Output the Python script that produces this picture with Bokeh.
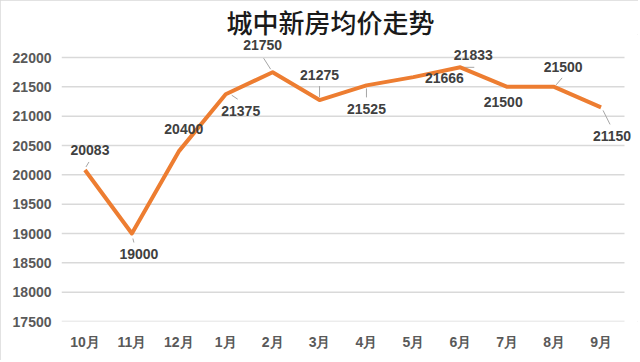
from bokeh.plotting import figure
from bokeh.models import ColumnDataSource, Range1d, FixedTicker, Title, LabelSet
from bokeh.core.properties import value
from bokeh.embed import file_html
from bokeh.resources import INLINE

months = ["10月", "11月", "12月", "1月", "2月", "3月", "4月", "5月", "6月", "7月", "8月", "9月"]
prices = [20083, 19000, 20400, 21375, 21750, 21275, 21525, 21666, 21833, 21500, 21500, 21150]
y_ticks = [17500, 18000, 18500, 19000, 19500, 20000, 20500, 21000, 21500, 22000]
title_text = "城中新房均价走势"

# label offsets in pixels (screen, y down)
lab_dx = [5, 7, 5, 15, -10, 0, 0, 31, 13, -4, 9, 11]
lab_dy = [-20, 20, -22, 17, -27, -25, 24, 1, -12, 15, -20, 29]
# leader lines: (dx0, dy0, dx1, dy1) in pixels from point, None = no line
leaders = [(1, -3, 4, -8), (1, 5, 2, 9), None, (6, 1, 12, 5), (-2, -3, -9, -14),
           (0, -3, 0, -14), (0, 3, 0, 12), None, (2, 0, 14, 0), None,
           (2, -2, 8, -9), (2, 3, 9, 17)]

W, H = 638, 360
ML, MR, MT, MB = 61, 0, 34, 39
GRID_R = 14         # pixels of frame to the right of the last category band
n = len(months)
band_px = (W - ML - MR - GRID_R) / n
x0, x1 = 0, n + GRID_R / band_px
px_y = 500 / 29.33
y0 = 17500
y1 = y0 + (H - MT - MB) * px_y
px_x = 1 / band_px

xs = [i + 0.5 for i in range(n)]
src = ColumnDataSource(dict(x=xs, y=prices, t=[str(v) for v in prices],
                            dx=lab_dx, dy=[-d for d in lab_dy]))

p = figure(width=W, height=H, output_backend="svg", toolbar_location=None,
           x_range=Range1d(x0, x1), y_range=Range1d(y0, y1),
           min_border_left=ML, min_border_right=MR, min_border_top=MT, min_border_bottom=MB)
p.outline_line_color = None
p.background_fill_color = "white"
p.border_fill_color = "white"
p.styles = {"outline": "1.5px solid #d9d9d9", "outline-offset": "-1.5px"}

p.title = Title(text=title_text, align="left", text_font_size="26px",
                text_font_style="normal", text_color="#1a1a1a",
                text_font="Noto Sans CJK SC Medium, Noto Sans CJK SC", standoff=-10, offset=165)

p.xgrid.grid_line_color = None
p.ygrid.grid_line_color = None
# horizontal gridlines spanning the category bands only
p.segment(x0=[0] * len(y_ticks), x1=[n] * len(y_ticks), y0=y_ticks, y1=y_ticks,
          line_color="#d9d9d9", line_width=1.5)

p.yaxis.ticker = FixedTicker(ticks=y_ticks)
p.xaxis.ticker = FixedTicker(ticks=xs)
p.xaxis.major_label_overrides = {x: m for x, m in zip(xs, months)}
for ax in (p.xaxis[0], p.yaxis[0]):
    ax.axis_line_color = None
    ax.major_tick_line_color = None
    ax.minor_tick_line_color = None
    ax.major_tick_out = 0
    ax.minor_tick_out = 0
    ax.major_tick_in = 0
    ax.minor_tick_in = 0
    ax.major_label_text_font = "Liberation Sans"
    ax.major_label_text_font_style = "bold"
    ax.major_label_text_font_size = "14px"
    ax.major_label_text_color = "#595959"
    ax.major_label_standoff = 10
p.xaxis.major_label_standoff = 12

# leader lines
lx0, ly0, lx1, ly1 = [], [], [], []
for x, y, ld in zip(xs, prices, leaders):
    if ld is None:
        continue
    a, b, c, d = ld
    lx0.append(x + a * px_x); ly0.append(y - b * px_y)
    lx1.append(x + c * px_x); ly1.append(y - d * px_y)
p.segment(lx0, ly0, lx1, ly1, line_color="#a6a6a6", line_width=1)

p.line("x", "y", source=src, line_color="#ED7D31", line_width=4, line_join="round")

labels = LabelSet(x="x", y="y", text="t", source=src, x_offset="dx", y_offset="dy",
                  text_align="center", text_baseline="middle",
                  text_font=value("Liberation Sans"), text_font_style="bold",
                  text_font_size="14px", text_color="#404040")
p.add_layout(labels)

open("out.html", "w").write(file_html(p, INLINE))
